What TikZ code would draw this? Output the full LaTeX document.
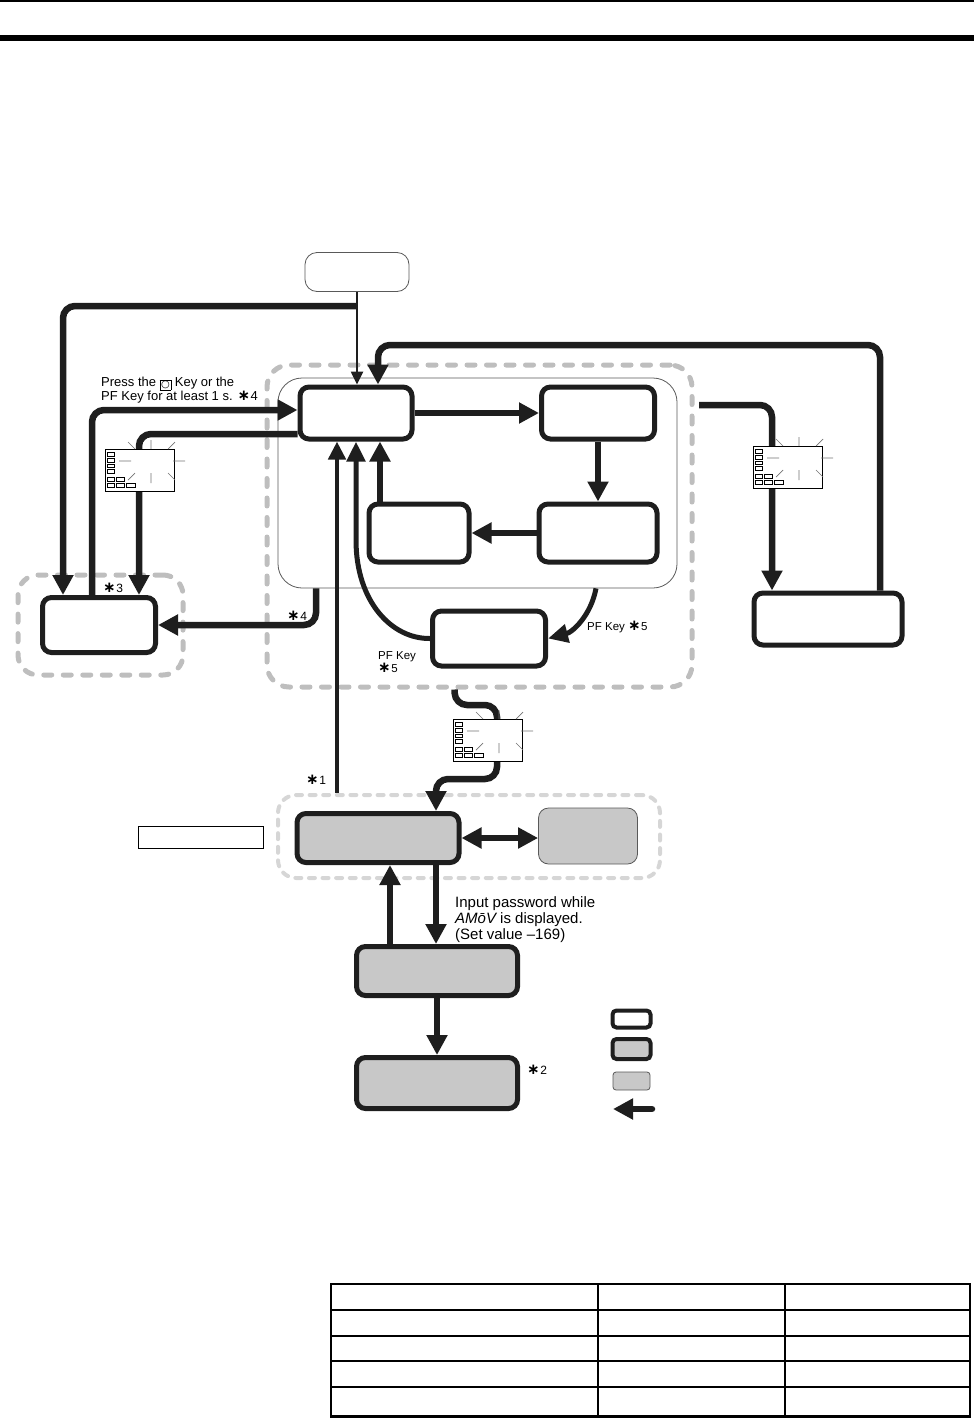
\documentclass[tikz,border=0pt]{standalone}
\usepackage{fontspec}
\setmainfont{Liberation Sans}
\newfontfamily\dejavu{DejaVu Sans}
\newfontfamily\dejavub{DejaVu Sans Bold}
\usetikzlibrary{arrows.meta}
\definecolor{gfill}{HTML}{C8C8C8}
\definecolor{dgray}{HTML}{BEBEBE}
\definecolor{lgray}{HTML}{D6D6D6}
\definecolor{ink}{HTML}{1E1E1E}
\newcommand{\astk}{{\dejavub\fontsize{15}{15}\selectfont\raisebox{-0.5pt}{∗}}\kern0.5pt}
\newcommand{\keysym}{\raisebox{-1pt}{\setlength{\fboxsep}{0.8pt}\setlength{\fboxrule}{0.6pt}\fbox{\dejavu\fontsize{10}{10}\selectfont ○}}}
\newcommand{\dispicon}[3]{%
 \node[icon, anchor=north west] (#1) at (#2,#3) {};
 \begin{scope}[shift={(#2,#3)}]
  \foreach \yy in {3.5,9.3,15,20.7} \draw[line width=0.6pt] (2,\yy) rectangle ++(7.5,3.6);
  \foreach \xx/\ww in {2/7.5,11/8.5} \draw[line width=0.6pt] (\xx,28.3) rectangle ++(\ww,3.6);
  \foreach \xx/\ww in {2/7.5,11/8.5,21/9} \draw[line width=0.6pt] (\xx,34) rectangle ++(\ww,3.8);
  \draw[flash] (14,12) -- (26,12) (68,12) -- (80,12) (46,-9) -- (46,0) (46,24) -- (46,34)
   (23,-7) -- (30,0) (70,-7) -- (63,0) (63,24) -- (70,31) (30,24) -- (23,31);
 \end{scope}}
\begin{document}
\begin{tikzpicture}[x=1pt,y=-1pt,
  box/.style={draw=ink, line width=5pt, rounded corners=9pt, fill=white, inner sep=0pt},
  gbox/.style={box, fill=gfill},
  thinbox/.style={draw=black!65, line width=0.8pt, rounded corners=10pt, inner sep=0pt},
  grpbox/.style={draw=dgray, line width=5pt, dash pattern=on 8pt off 11.5pt, line cap=round, rounded corners=22pt, inner sep=0pt},
  grpboxl/.style={draw=lgray, line width=4pt, dash pattern=on 6pt off 7.6pt, line cap=round, rounded corners=18pt, inner sep=0pt},
  arr/.style={draw=ink, line width=6.5pt, rounded corners=12pt, -{Triangle[length=20pt,width=20pt]}},
  dbl/.style={draw=ink, line width=6.5pt, {Triangle[length=20pt,width=20pt]}-{Triangle[length=20pt,width=20pt]}},
  curv/.style={draw=ink, line width=5pt, -{Triangle[length=20pt,width=18pt]}},
  thinarr/.style={draw=ink, line width=2.5pt, -{Triangle[length=13pt,width=12pt]}},
  midarr/.style={draw=ink, line width=4.5pt, -{Triangle[length=18pt,width=17pt]}},
  icon/.style={draw=black, line width=1pt, fill=white, minimum width=69pt, minimum height=42pt, inner sep=0pt},
  flash/.style={draw=black!55, line width=0.7pt},
  lab/.style={inner sep=0pt, anchor=base west, font=\fontsize{12}{13}\selectfont},
  small/.style={inner sep=0pt, anchor=base west, font=\fontsize{11.5}{12.5}\selectfont}
]
\useasboundingbox (0,0) rectangle (974,1419);

% header rules
\draw[line width=2pt] (0,1) -- (974,1);
\draw[line width=6pt] (0,38) -- (974,38);

% groups (background)
\node[grpbox, minimum width=425pt, minimum height=322pt] (grp1) at (479.5,526) {};
\node[grpbox, minimum width=165pt, minimum height=100pt, rounded corners=20pt] (grpF) at (100.5,625) {};
\node[grpboxl, minimum width=382pt, minimum height=83pt] (grpH) at (469,836.5) {};
\node[thinbox, rounded corners=24pt, minimum width=399pt, minimum height=210pt] (inner) at (477.5,483) {};

% boxes
\node[thinbox, fill=white, rounded corners=12pt, minimum width=104pt, minimum height=39pt] (T) at (357,272) {};
\node[box, minimum width=112pt, minimum height=52pt] (A) at (356,413) {};
\node[box, minimum width=113pt, minimum height=52pt] (B) at (598,413) {};
\node[box, minimum width=118pt, minimum height=58pt] (C) at (598,533) {};
\node[box, minimum width=100pt, minimum height=58pt] (D) at (419,533) {};
\node[box, minimum width=113pt, minimum height=55pt] (E) at (489,638.5) {};
\node[box, minimum width=113pt, minimum height=55pt] (F) at (99,625) {};
\node[box, minimum width=148pt, minimum height=52pt] (G) at (828,619) {};
\node[gbox, minimum width=162pt, minimum height=49pt] (H) at (378,838) {};
\node[thinbox, fill=gfill, minimum width=99pt, minimum height=56pt] (I) at (588,836) {};
\node[gbox, minimum width=161pt, minimum height=49pt] (J) at (437,971) {};
\node[gbox, minimum width=161pt, minimum height=51pt] (K) at (437,1083) {};
\node[draw=black, line width=0.8pt, minimum width=125pt, minimum height=22pt, inner sep=0pt] (lbl) at (200.5,837) {};

% connectors
\coordinate (tj) at (357,306);
\coordinate (gc) at (378,345);
\coordinate (p13) at (699,405);
\draw[thinarr] (T.south) -- (T.south |- A.north);
\draw[arr] (tj) -| ([xshift=-36pt]F.north);
\draw[arr] ([xshift=52pt]G.north) |- (gc) -- ([xshift=22pt]A.north);
\draw[arr] (A.east) -- (B.west);
\draw[arr] (B.south) -- (C.north);
\draw[arr] (C.west) -- (D.east);
\draw[arr] ([xshift=-39pt]D.north) -- ([xshift=-39pt]D.north |- A.south);
\draw[arr] ([xshift=-7pt]F.north) |- ([yshift=3pt]A.west);
\draw[arr] ([yshift=-21pt]A.west) -| ([xshift=40pt]F.north);
\draw[arr] ([xshift=-161.5pt]inner.south) |- (F.east);
\draw[curv] (E.west) .. controls (392,639) and (356,602) .. (356,540) -- (A.south);
\draw[curv] ([xshift=118.5pt]inner.south) .. controls (591,615) and (573,632) .. (E.east);
\draw[midarr] ([xshift=-132pt]grpH.north) -- ([xshift=-19pt]A.south);
\draw[arr] (p13) -| ([xshift=-56pt]G.north);
\draw[arr] ([xshift=-25pt]grp1.south) -- (455,705) -- (497,705) -- (497,779) -| ([xshift=58pt]H.north);
\draw[dbl] (H.east) -- (H.east -| I.west);
\draw[arr] ([xshift=58pt]H.south) -- ([xshift=58pt]H.south |- J.north);
\draw[arr] ([xshift=-47pt]J.north) -- ([xshift=-47pt]J.north |- H.south);
\draw[arr] (J.south) -- (K.north);

% display icons
\dispicon{icon1}{105}{449}
\dispicon{icon2}{753}{446}
\dispicon{icon3}{453}{719}

% labels (base = last line's baseline)
\node[lab, align=left, font=\fontsize{13}{13.5}\selectfont] (tpress) at (101,400) {Press the \keysym{} Key or the\\PF Key for at least 1 s. \astk4};
\node[lab] (s3) at (103,592) {\astk3};
\node[lab] (s4) at (287,620) {\astk4};
\node[lab] (s1) at (306,784) {\astk1};
\node[lab] (s2) at (527,1074) {\astk2};
\node[small] (pf1) at (587,630) {PF Key \astk5};
\node[small, align=left] (pf2) at (378,672) {PF Key\\\astk5};
\node[lab, align=left, font=\fontsize{15}{16}\selectfont] (tpw) at (455,939) {Input password while\\{\itshape AMōV} is displayed.\\(Set value –169)};

% legend
\node[box, line width=4pt, rounded corners=4pt, minimum width=38pt, minimum height=17pt] (L1) at (631.5,1019) {};
\node[gbox, line width=4pt, rounded corners=4pt, minimum width=38pt, minimum height=20pt] (L2) at (631.5,1049) {};
\node[thinbox, fill=gfill, rounded corners=3pt, minimum width=37pt, minimum height=18pt] (L3) at (631.5,1081) {};
\coordinate (la1) at (652,1109);
\coordinate (la2) at (613,1109);
\draw[arr, line cap=round] (la1) -- (la2);

% table
\draw[line width=1.5pt] (331,1310) -- (970,1310) (331,1336) -- (970,1336) (331,1361) -- (970,1361) (331,1387) -- (970,1387);
\draw[line width=1.5pt] (598,1284) -- (598,1416) (785,1284) -- (785,1416);
\draw[line width=2pt] (331,1416) -- (331,1284) -- (970,1284) -- (970,1416);
\draw[line width=3pt] (330,1416) -- (971,1416);
\end{tikzpicture}
\end{document}
